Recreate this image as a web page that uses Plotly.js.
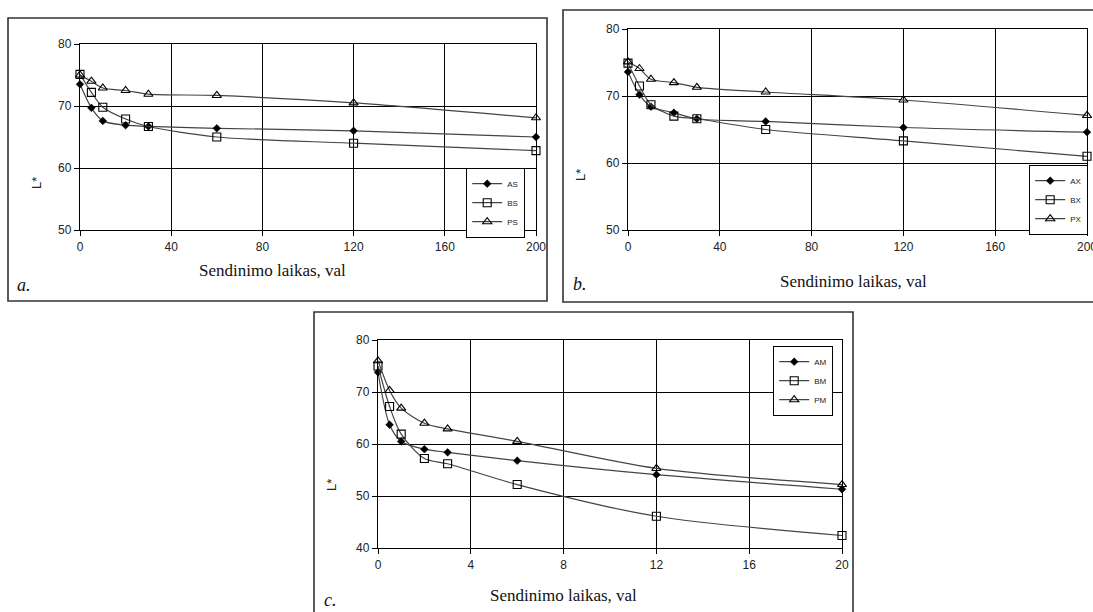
<!DOCTYPE html>
<html><head><meta charset="utf-8">
<script src="https://cdn.plot.ly/plotly-3.0.1.min.js"></script>
<style>html,body{margin:0;padding:0;background:#fff;}#chart{width:1093px;height:612px;}</style>
</head><body><div id="chart"></div>
<script>
// Sendinimo laikas (aging time), val
const timeAB = [0, 5, 10, 20, 30, 60, 120, 200];
const timeC  = [0, 0.5, 1, 2, 3, 6, 12, 20];
// panel a
const AS = [73.5, 69.7, 67.6, 66.9, 66.7, 66.4, 66.0, 65.0];
const BS = [75.1, 72.2, 69.8, 67.9, 66.7, 65.0, 64.0, 62.8];
const PS = [75.0, 74.0, 72.9, 72.5, 71.9, 71.7, 70.5, 68.1];
// panel b
const AX = [73.6, 70.2, 68.4, 67.5, 66.6, 66.2, 65.3, 64.6];
const BX = [74.9, 71.5, 68.7, 67.0, 66.6, 65.0, 63.3, 61.0];
const PX = [75.1, 74.1, 72.5, 72.0, 71.3, 70.6, 69.4, 67.1];
// panel c
const AM = [73.8, 63.7, 60.5, 59.0, 58.4, 56.8, 54.1, 51.3];
const BM = [75.0, 67.2, 61.9, 57.2, 56.2, 52.2, 46.1, 42.4];
const PM = [76.0, 70.3, 66.9, 64.0, 62.9, 60.5, 55.3, 52.2];

const xTitle = 'Sendinimo laikas, val';
const yTitle = 'L*';

const W = 1093, H = 612;
const px = v => v / W, py = v => 1 - v / H;

const lineCol = '#444';
function tr(x, y, name, sym, xa, ya, leg) {
  const filled = sym === 'diamond';
  return {
    x: x, y: y, name: name, type: 'scatter', mode: 'lines+markers',
    xaxis: xa, yaxis: ya, legend: leg, cliponaxis: false,
    line: {color: lineCol, width: 1.2, shape: 'spline', smoothing: 0.8},
    marker: {
      symbol: filled ? 'diamond' : sym + '-open',
      size: filled ? 6 : 8,
      color: '#000',
      line: {color: '#000', width: filled ? 0.5 : 1.1}
    }
  };
}

const data = [
  tr(timeAB, AS, 'AS', 'diamond', 'x', 'y', 'legend'),
  tr(timeAB, BS, 'BS', 'square', 'x', 'y', 'legend'),
  tr(timeAB, PS, 'PS', 'triangle-up', 'x', 'y', 'legend'),
  tr(timeAB, AX, 'AX', 'diamond', 'x2', 'y2', 'legend2'),
  tr(timeAB, BX, 'BX', 'square', 'x2', 'y2', 'legend2'),
  tr(timeAB, PX, 'PX', 'triangle-up', 'x2', 'y2', 'legend2'),
  tr(timeC, AM, 'AM', 'diamond', 'x3', 'y3', 'legend3'),
  tr(timeC, BM, 'BM', 'square', 'x3', 'y3', 'legend3'),
  tr(timeC, PM, 'PM', 'triangle-up', 'x3', 'y3', 'legend3')
];

const tickFont = {family: 'Liberation Sans, Arial, sans-serif', size: 12, color: '#222'};
function xa(domain, range, dtick, anchor) {
  return {domain: domain, range: range, dtick: dtick, tick0: 0, anchor: anchor,
    showgrid: true, gridcolor: '#000', gridwidth: 1,
    showline: true, linecolor: '#000', linewidth: 1.2, mirror: true,
    ticks: 'outside', ticklen: 5, tickcolor: '#000', tickfont: tickFont,
    ticklabeloverflow: 'allow',
    zeroline: false, fixedrange: true};
}
function ya(domain, range, anchor) {
  return {domain: domain, range: range, dtick: 10, anchor: anchor,
    showgrid: true, gridcolor: '#000', gridwidth: 1,
    showline: true, linecolor: '#000', linewidth: 1.2, mirror: true,
    ticks: 'outside', ticklen: 5, tickcolor: '#000', tickfont: tickFont,
    ticklabeloverflow: 'allow',
    zeroline: false, fixedrange: true};
}

function legendAt(x, y) {
  return {x: px(x), y: py(y), xanchor: 'left', yanchor: 'top',
    bgcolor: '#fff', bordercolor: '#000', borderwidth: 1.2,
    font: {family: 'Liberation Sans, Arial, sans-serif', size: 8, color: '#222'},
    itemwidth: 30, tracegroupgap: 0};
}

const serif = 'Liberation Serif, Times New Roman, serif';
function ann(x, y, text, size, opts) {
  return Object.assign({xref: 'paper', yref: 'paper', x: px(x), y: py(y),
    xanchor: 'center', yanchor: 'middle', showarrow: false, text: text,
    font: {family: serif, size: size, color: '#111'}}, opts || {});
}
const sansY = {family: 'Liberation Sans, Arial, sans-serif', size: 13, color: '#222'};

const frame = (x0, y0, x1, y1) => ({type: 'rect', xref: 'paper', yref: 'paper',
  x0: px(x0), x1: px(x1), y0: py(y1), y1: py(y0),
  line: {color: '#333', width: 1.6}, fillcolor: 'rgba(0,0,0,0)', layer: 'below'});

const layout = {
  width: W, height: H, margin: {l: 0, r: 0, t: 0, b: 0},
  paper_bgcolor: '#fff', plot_bgcolor: '#fff',
  xaxis:  xa([px(80), px(536)], [0, 200], 40, 'y'),
  yaxis:  ya([py(230), py(44)], [50, 80], 'x'),
  xaxis2: xa([px(628), px(1087)], [0, 200], 40, 'y2'),
  yaxis2: ya([py(230), py(29)], [50, 80], 'x2'),
  xaxis3: xa([px(378), px(842)], [0, 20], 4, 'y3'),
  yaxis3: ya([py(548), py(340)], [40, 80], 'x3'),
  legend: legendAt(466, 168),
  legend2: legendAt(1029, 165),
  legend3: legendAt(773, 346),
  showlegend: true,
  shapes: [frame(8, 18, 547, 301), frame(563, 10, 1096, 302), frame(314, 312, 853, 616)],
  annotations: [
    ann(272, 270, xTitle, 17),
    ann(853, 282, xTitle, 17),
    ann(563, 595, xTitle, 17),
    ann(36, 183, yTitle, 13, {textangle: -90, font: sansY}),
    ann(580, 175, yTitle, 13, {textangle: -90, font: sansY}),
    ann(331, 485, yTitle, 13, {textangle: -90, font: sansY}),
    ann(24, 285, '<i>a.</i>', 18),
    ann(580, 284, '<i>b.</i>', 18),
    ann(330, 600, '<i>c.</i>', 18)
  ]
};

Plotly.newPlot('chart', data, layout, {displayModeBar: false, staticPlot: true});
</script>
</body></html>
